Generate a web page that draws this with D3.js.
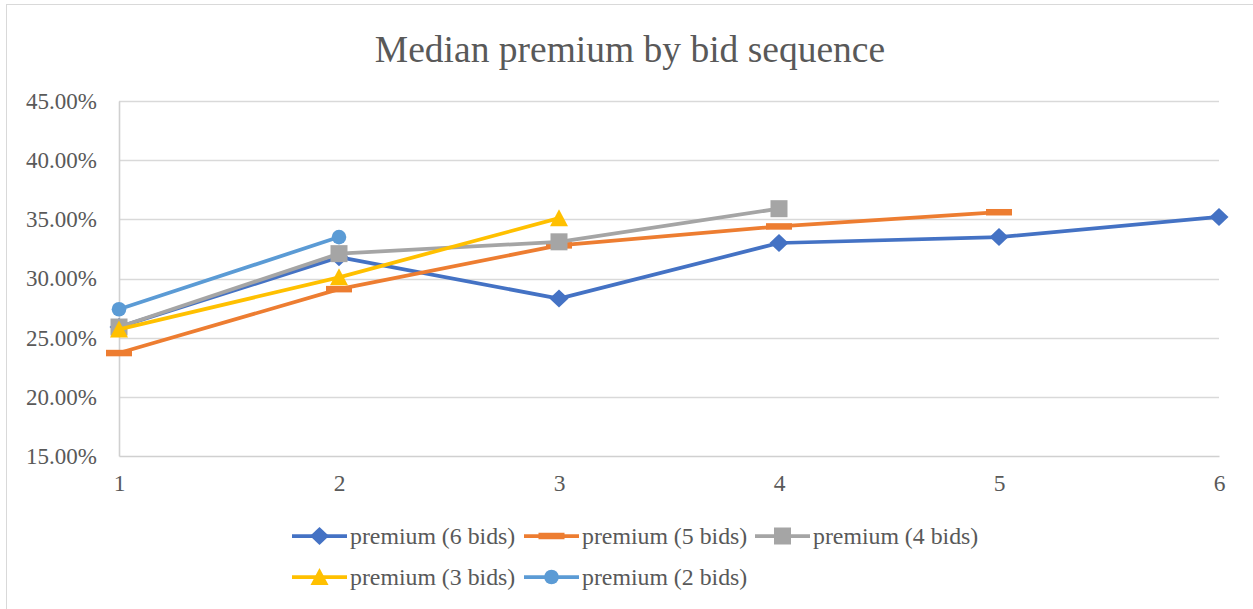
<!DOCTYPE html>
<html>
<head>
<meta charset="utf-8">
<script src="https://cdn.jsdelivr.net/npm/d3@7"></script>
<style>
  html, body { margin: 0; padding: 0; background: #fff; }
  svg { display: block; }
  text { font-family: "Liberation Serif", "Times New Roman", serif; fill: #595959; }
</style>
</head>
<body>
<svg id="chart" width="1253" height="609"></svg>
<script>
// Bid sequence positions
const bidSequence = [1, 2, 3, 4, 5, 6];

// Median premium per series (fraction), one value per bid in sequence
const premium6 = [0.259, 0.318, 0.283, 0.330, 0.335, 0.352];
const premium5 = [0.237, 0.291, 0.328, 0.344, 0.356];
const premium4 = [0.259, 0.321, 0.331, 0.359];
const premium3 = [0.257, 0.301, 0.351];
const premium2 = [0.274, 0.335];

const seriesNames = ["premium (6 bids)", "premium (5 bids)", "premium (4 bids)", "premium (3 bids)", "premium (2 bids)"];
const seriesColors = ["#4472C4", "#ED7D31", "#A5A5A5", "#FFC000", "#5B9BD5"];
const seriesMarkers = ["diamond", "dash", "square", "triangle", "circle"];
const seriesValues = [premium6, premium5, premium4, premium3, premium2];

const yTicks = [0.15, 0.20, 0.25, 0.30, 0.35, 0.40, 0.45];

const svg = d3.select("#chart");
const W = 1253, H = 609;
const plot = { left: 119, right: 1219, top: 101, bottom: 456 };

// Chart frame
svg.append("rect")
  .attr("x", 6.5).attr("y", 4.5)
  .attr("width", W + 10).attr("height", H + 10)
  .attr("fill", "#fff").attr("stroke", "#d9d9d9").attr("stroke-width", 1);

const x = d3.scaleLinear().domain([1, 6]).range([plot.left, plot.right]);
const y = d3.scaleLinear().domain([0.15, 0.45]).range([plot.bottom, plot.top]);

// Title
svg.append("text")
  .attr("x", 630).attr("y", 62)
  .attr("text-anchor", "middle")
  .style("font-size", "37.5px")
  .text("Median premium by bid sequence");

// Horizontal gridlines
svg.append("g")
  .selectAll("line")
  .data(yTicks.slice(1))
  .join("line")
  .attr("x1", plot.left).attr("x2", plot.right)
  .attr("y1", d => Math.round(y(d)) + 0.5).attr("y2", d => Math.round(y(d)) + 0.5)
  .attr("stroke", "#d9d9d9").attr("stroke-width", 1.3);

// Y axis
const yAxis = d3.axisLeft(y)
  .tickValues(yTicks)
  .tickFormat(d => (d * 100).toFixed(2) + "%")
  .tickSize(0).tickPadding(22);
const gy = svg.append("g").attr("transform", `translate(${plot.left},0)`).call(yAxis);
gy.select(".domain").attr("stroke", "#d0d0d0").attr("stroke-width", 1.6);
gy.selectAll("text").style("font-size", "23px").attr("fill", "#595959");

// X axis
const xAxis = d3.axisBottom(x)
  .tickValues(bidSequence)
  .tickFormat(d3.format("d"))
  .tickSize(0).tickPadding(18);
const gx = svg.append("g").attr("transform", `translate(0,${plot.bottom})`).call(xAxis);
gx.select(".domain").attr("stroke", "#d0d0d0").attr("stroke-width", 1.6);
gx.selectAll("text").style("font-size", "23.5px").attr("fill", "#595959");

// Marker shapes
function drawMarker(g, type, color, cx, cy) {
  if (type === "diamond") {
    g.append("path").attr("d", `M${cx},${cy - 9}L${cx + 9.5},${cy}L${cx},${cy + 9}L${cx - 9.5},${cy}Z`).attr("fill", color);
  } else if (type === "dash") {
    g.append("rect").attr("x", cx - 13).attr("y", cy - 3.25).attr("width", 26).attr("height", 6.5).attr("fill", color);
  } else if (type === "square") {
    g.append("rect").attr("x", cx - 8.5).attr("y", cy - 8.5).attr("width", 17).attr("height", 17).attr("fill", color);
  } else if (type === "triangle") {
    g.append("path").attr("d", `M${cx},${cy - 9}L${cx + 9},${cy + 8}L${cx - 9},${cy + 8}Z`).attr("fill", color);
  } else if (type === "circle") {
    g.append("circle").attr("cx", cx).attr("cy", cy).attr("r", 7.3).attr("fill", color);
  }
}

const line = d3.line().x((d, i) => x(bidSequence[i])).y(d => y(d));

// Series lines and markers
seriesValues.forEach((vals, s) => {
  const g = svg.append("g");
  g.append("path")
    .attr("d", line(vals))
    .attr("fill", "none")
    .attr("stroke", seriesColors[s])
    .attr("stroke-width", 3.75)
    .attr("stroke-linejoin", "round")
    .attr("stroke-linecap", "round");
  vals.forEach((v, i) => drawMarker(g, seriesMarkers[s], seriesColors[s], x(bidSequence[i]), y(v)));
});

// Legend
const legendPos = [[292, 536], [524, 536], [755, 536], [292, 577], [524, 577]];
seriesNames.forEach((name, s) => {
  const [lx, ly] = legendPos[s];
  const g = svg.append("g");
  g.append("line")
    .attr("x1", lx).attr("x2", lx + 55)
    .attr("y1", ly).attr("y2", ly)
    .attr("stroke", seriesColors[s]).attr("stroke-width", 3.75);
  drawMarker(g, seriesMarkers[s], seriesColors[s], lx + 27.5, ly);
  g.append("text")
    .attr("x", lx + 58).attr("y", ly + 7.5)
    .style("font-size", "23.8px")
    .text(name);
});
</script>
</body>
</html>
